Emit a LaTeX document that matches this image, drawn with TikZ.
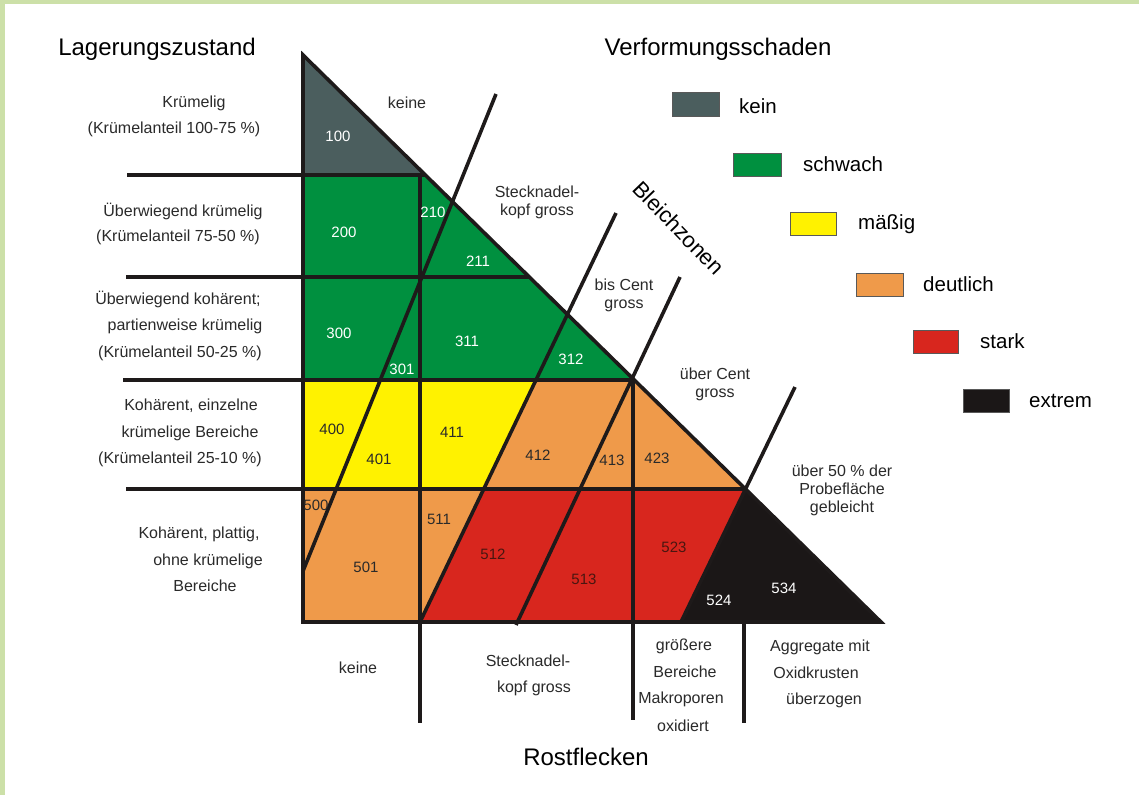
\documentclass[tikz,border=0pt]{standalone}
\usepackage{fontspec}
\setmainfont{Liberation Sans}
\definecolor{framegreen}{HTML}{CCE0A8}
\definecolor{cKein}{HTML}{4B5E5E}
\definecolor{cSchwach}{HTML}{00903F}
\definecolor{cMaessig}{HTML}{FFF200}
\definecolor{cDeutlich}{HTML}{EF9A4A}
\definecolor{cStark}{HTML}{D8261E}
\definecolor{cExtrem}{HTML}{1B1717}
\definecolor{lineblk}{HTML}{1E1A1A}
\definecolor{txt}{HTML}{2A2A2A}
\definecolor{redtxt}{HTML}{4A1610}
\begin{document}
\begin{tikzpicture}[x=1pt,y=-1pt,
  lbl/.style={font=\fontsize{16}{18}\selectfont, text=txt, inner sep=0pt},
  num/.style={font=\fontsize{15}{18}\selectfont, inner sep=0pt},
  numw/.style={num,text=white},
  numd/.style={num,text=txt},
  numr/.style={num,text=redtxt},
  ttl/.style={font=\fontsize{24}{28}\selectfont, text=black, inner sep=0pt},
  leg/.style={font=\fontsize{20.5}{24}\selectfont, text=black, inner sep=0pt, anchor=base west},
  legbox/.style={draw=black!65, line width=1pt},
  bar/.style={line width=3.6pt, draw=lineblk},
]
% frame and background
\fill[framegreen] (0,0) rectangle (1139,795);
\fill[white] (5,4) rectangle (1139,795);
\useasboundingbox (0,0) rectangle (1139,795);

% key coordinates
\coordinate (A) at (303,55);
\coordinate (T) at (881,622);
\coordinate (BL) at (303,622);
\coordinate (H1) at (425.3,175);
\coordinate (H2) at (529.3,277);
\coordinate (H3) at (634.3,380);
\coordinate (H4) at (745.4,489);
\coordinate (L2a) at (536,380);
\coordinate (L2b) at (483.7,489);
\coordinate (L2c) at (420,622);
\coordinate (L4c) at (681,622);

% fills
\fill[cKein] (A) -- (303,175) -- (H1) -- cycle;
\fill[cSchwach] (303,175) -- (303,380) -- (H3) -- (H1) -- cycle;
\fill[cMaessig] (303,380) -- (303,489) -- (L2b) -- (L2a) -- cycle;
\fill[cDeutlich] (L2a) -- (L2b) -- (H4) -- (H3) -- cycle;
\fill[cDeutlich] (303,489) -- (BL) -- (L2c) -- (L2b) -- cycle;
\fill[cStark] (L2b) -- (L2c) -- (L4c) -- (H4) -- cycle;
\fill[cExtrem] (H4) -- (L4c) -- (T) -- cycle;

% horizontal lines
\draw[bar] (127,175) -- (H1);
\draw[bar] (126,277) -- (H2);
\draw[bar] (123,380) -- (H3);
\draw[bar] (126,489) -- (H4);
% vertical lines
\draw[bar] (420,176) -- (420,723);
\draw[bar] (633,379) -- (633,720);
\draw[bar] (744,622) -- (744,723);
% slanted lines (Bleichzonen)
\draw[bar] (496,94) -- (303,571);
\draw[bar] (616,213) -- (L2c);
\draw[bar] (680,277) -- (516,625);
\draw[bar] (795,387) -- (L4c);
% triangle outline
\draw[bar, line join=miter] (A) -- (T) -- (BL) -- cycle;

% titles
\node[ttl] (tLag) at (157,49) {Lagerungszustand};
\node[ttl] (tVer) at (718,49) {Verformungsschaden};
\node[ttl] (tRost) at (586,757) {Rostflecken};
\node[font=\fontsize{22}{26}\selectfont, inner sep=0pt, rotate=-46] (tBleich) at (679,228) {Bleichzonen};

% left labels
\node[lbl] (r1a) at (194,103) {Krümelig};
\node[lbl] (r1b) at (174,129) {(Krümelanteil 100-75 \%)};
\node[lbl] (r2a) at (183,211) {Überwiegend krümelig};
\node[lbl] (r2b) at (178,237) {(Krümelanteil 75-50 \%)};
\node[lbl] (r3a) at (178,299) {Überwiegend kohärent;};
\node[lbl] (r3b) at (185,326) {partienweise krümelig};
\node[lbl] (r3c) at (180,353) {(Krümelanteil 50-25 \%)};
\node[lbl] (r4a) at (191,406) {Kohärent, einzelne};
\node[lbl] (r4b) at (190,433) {krümelige Bereiche};
\node[lbl] (r4c) at (180,459) {(Krümelanteil 25-10 \%)};
\node[lbl] (r5a) at (199,534) {Kohärent, plattig,};
\node[lbl] (r5b) at (208,561) {ohne krümelige};
\node[lbl] (r5c) at (205,586) {Bereiche};

% Bleichzonen labels
\node[lbl] (b0) at (407,103) {keine};
\node[lbl, align=center] (b1) at (537,202) {Stecknadel-\\kopf gross};
\node[lbl, align=center] (b2) at (624,295) {bis Cent\\gross};
\node[lbl, align=center] (b3) at (715,384) {über Cent\\gross};
\node[lbl, align=center] (b4) at (842,490) {über 50 \% der\\Probefläche\\gebleicht};

% Rostflecken labels
\node[lbl] (s0) at (358,668) {keine};
\node[lbl] (s1a) at (528,661) {Stecknadel-};
\node[lbl] (s1b) at (534,688) {kopf gross};
\node[lbl] (s2a) at (684,646) {größere};
\node[lbl] (s2b) at (685,672) {Bereiche};
\node[lbl] (s2c) at (681,699) {Makroporen};
\node[lbl] (s2d) at (683,726) {oxidiert};
\node[lbl] (s3a) at (820,647) {Aggregate mit};
\node[lbl] (s3b) at (816,673) {Oxidkrusten};
\node[lbl] (s3c) at (824,700) {überzogen};

% class numbers
\node[numw] (n100) at (338,136) {100};
\node[numw] (n200) at (344,232) {200};
\node[numw] (n210) at (433,212) {210};
\node[numw] (n211) at (478,261) {211};
\node[numw] (n300) at (339,333) {300};
\node[numw] (n311) at (467,341) {311};
\node[numw] (n301) at (402,369) {301};
\node[numw] (n312) at (571,359) {312};
\node[numd] (n400) at (332,429) {400};
\node[numd] (n401) at (379,459) {401};
\node[numd] (n411) at (452,432) {411};
\node[numd] (n412) at (538,455) {412};
\node[numd] (n413) at (612,460) {413};
\node[numd] (n423) at (657,458) {423};
\node[numd] (n500) at (316,505) {500};
\node[numd] (n501) at (366,567) {501};
\node[numd] (n511) at (439,519) {511};
\node[numr] (n512) at (493,554) {512};
\node[numr] (n513) at (584,579) {513};
\node[numr] (n523) at (674,547) {523};
\node[numw] (n524) at (719,600) {524};
\node[numw] (n534) at (784,588) {534};

% legend
\draw[legbox, fill=cKein] (672,92) rectangle (719,116);
\node[leg] (lk) at (739,113) {kein};
\draw[legbox, fill=cSchwach] (733,153) rectangle (781,176);
\node[leg] (ls) at (803,171) {schwach};
\draw[legbox, fill=cMaessig] (790,212) rectangle (836,235);
\node[leg] (lm) at (858,229) {mäßig};
\draw[legbox, fill=cDeutlich] (856,273) rectangle (903,296);
\node[leg] (ld) at (923,291) {deutlich};
\draw[legbox, fill=cStark] (913,330) rectangle (958,353);
\node[leg] (lst) at (980,348) {stark};
\draw[legbox, fill=cExtrem] (963,389) rectangle (1009,412);
\node[leg] (le) at (1029,407) {extrem};
\end{tikzpicture}
\end{document}
